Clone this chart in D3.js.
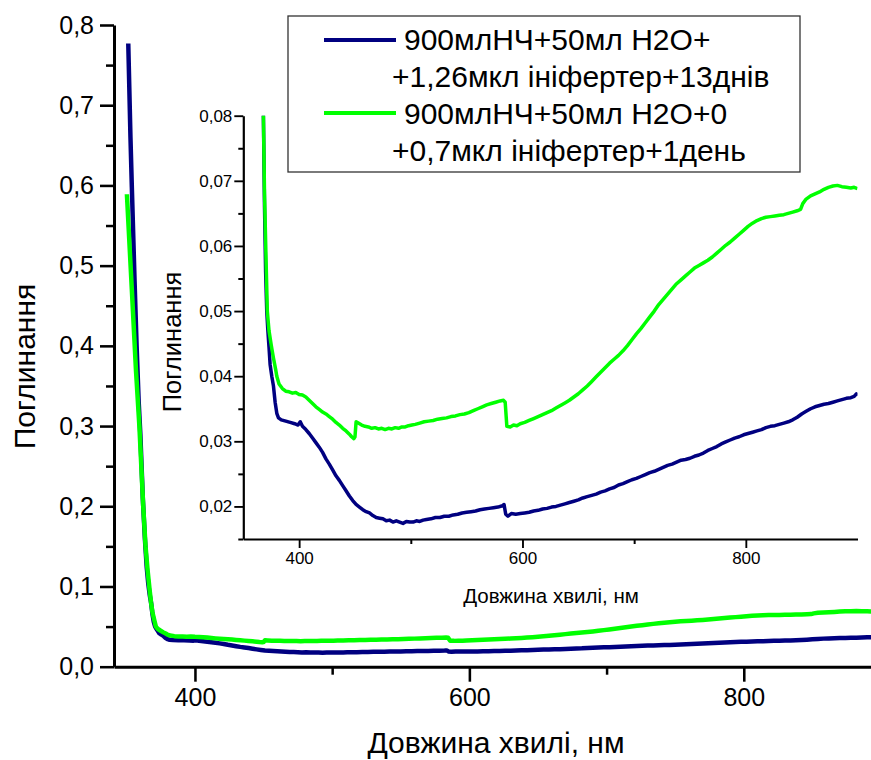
<!DOCTYPE html>
<html>
<head>
<meta charset="utf-8">
<script src="https://cdn.jsdelivr.net/npm/d3@7"></script>
<style>
  html, body { margin: 0; padding: 0; background: #fff; }
  svg { display: block; font-family: "Liberation Sans", Arial, sans-serif; }
</style>
</head>
<body>
<svg id="chart" width="871" height="760"></svg>
<script>
// ---------------- DATA ----------------
const seriesNames = [
  ["900млНЧ+50мл H2O+", "+1,26мкл ініфертер+13днів"],
  ["900млНЧ+50мл H2O+0", "+0,7мкл ініфертер+1день"]
];
const seriesColors = ["#000080", "#00ff00"];

// Wavelength (nm) and absorbance for series 1 (blue)
const blueWl = [351.4,353,354,356,357.5,359,360.2,362,363.5,364.8,366,367,368,369,370,371,372,373,374,375.5,377,378.5,380,381.5,
384,388,392,396,399,401,403,406,409,412,415,418,421,424,427,430,433,436,439,442,445,448,451,454,457,460,463,466,469,472,475,478,481,484,487,490,493,496,499,502,505,508,511,514,518,522,526,530,534,538,542,546,550,554,558,562,566,570,574,578,582,583.5,585,587,590,594,598,602,606,610,614,618,622,626,630,634,638,642,646,650,654,658,662,666,670,674,678,682,686,690,694,698,702,706,710,714,718,722,726,730,734,738,742,746,750,754,758,762,766,770,774,778,782,786,790,794,798,802,806,810,814,818,822,826,830,834,838,842,846,850,854,858,862,866,870,874,878,882,886,890,894,897,899,900];
const blueAbs = [0.777,0.66,0.598,0.48,0.399,0.33,0.29,0.21,0.16,0.125,0.103,0.09,0.08,0.066,0.056,0.05,0.047,0.0445,0.0418,0.0400,0.0385,0.0360,0.0343,0.0336,
0.0333,0.0331,0.0329,0.0327,0.0325,0.0330,0.0323,0.0318,0.0312,0.0305,0.0298,0.0291,0.0283,0.0273,0.0265,0.0256,0.0247,0.0240,0.0232,0.0224,0.0216,0.0209,0.0203,0.0199,0.0195,0.0192,0.0190,0.0186,0.0183,0.0182,0.0181,0.0178,0.0179,0.0176,0.0178,0.0176,0.0174,0.0177,0.0176,0.0176,0.0178,0.0177,0.0179,0.0180,0.0181,0.0183,0.0183,0.0185,0.0185,0.0187,0.0188,0.0190,0.0191,0.0192,0.0193,0.0195,0.0196,0.0197,0.0198,0.0199,0.0201,0.0203,0.0188,0.0185,0.0189,0.0188,0.0189,0.0190,0.0191,0.0193,0.0194,0.0196,0.0197,0.0199,0.0200,0.0202,0.0204,0.0206,0.0208,0.0210,0.0213,0.0215,0.0217,0.0219,0.0222,0.0224,0.0227,0.0229,0.0233,0.0235,0.0238,0.0241,0.0243,0.0246,0.0249,0.0252,0.0254,0.0257,0.0260,0.0263,0.0265,0.0268,0.0271,0.0272,0.0274,0.0277,0.0279,0.0282,0.0286,0.0289,0.0292,0.0296,0.0299,0.0302,0.0305,0.0307,0.0310,0.0312,0.0314,0.0316,0.0318,0.0321,0.0323,0.0324,0.0326,0.0328,0.0330,0.0333,0.0337,0.0342,0.0346,0.0350,0.0353,0.0355,0.0357,0.0358,0.0360,0.0362,0.0364,0.0366,0.0367,0.0369,0.0373,0.0370];

// Wavelength (nm) and absorbance for series 2 (green)
const greenWl = [350.4,354,357,359.5,362.3,364,365.5,367,368,369,370.5,371.5,373,375,377,379,380,382,385,388,391,394,397,400,403,406,409,412,415,418,421,424,427,430,433,436,439,442,445,447,449,450,451,453,456,459,462,465,468,471,474,477,480,483,486,489,492,495,498,501,504,508,512,516,520,524,528,532,536,540,544,548,552,556,560,564,568,572,576,580,583,584.5,586,589,592,595,598,602,606,610,614,618,622,626,630,634,638,642,646,650,654,658,662,666,670,674,678,682,686,690,694,698,702,706,710,714,718,722,726,730,734,738,742,746,750,754,758,762,766,770,774,778,782,786,790,794,798,802,806,810,814,818,822,826,830,834,838,842,846,849,851,854,858,862,866,870,874,878,882,886,890,894,897,900];
const greenAbs = [0.589,0.47,0.37,0.30,0.2,0.15,0.12,0.095,0.08,0.068,0.057,0.05,0.047,0.0448,0.0428,0.041,0.040,0.0388,0.0381,0.0377,0.0376,0.0374,0.0375,0.0372,0.0371,0.0368,0.0363,0.0358,0.0353,0.0349,0.0345,0.0342,0.0338,0.0334,0.0329,0.0325,0.0320,0.0316,0.0311,0.0307,0.0304,0.0307,0.0330,0.0328,0.0325,0.0323,0.0322,0.0320,0.0321,0.0319,0.0320,0.0318,0.0320,0.0319,0.0321,0.0320,0.0322,0.0322,0.0324,0.0325,0.0326,0.0328,0.0330,0.0331,0.0332,0.0334,0.0335,0.0336,0.0338,0.0339,0.0341,0.0342,0.0344,0.0347,0.0350,0.0353,0.0356,0.0358,0.0360,0.0362,0.0363,0.0360,0.0323,0.0322,0.0325,0.0324,0.0327,0.0329,0.0332,0.0335,0.0338,0.0341,0.0344,0.0347,0.0351,0.0355,0.0359,0.0363,0.0368,0.0373,0.0379,0.0385,0.0392,0.0399,0.0406,0.0413,0.0420,0.0426,0.0432,0.0439,0.0447,0.0456,0.0465,0.0473,0.0482,0.0491,0.0500,0.0510,0.0518,0.0526,0.0534,0.0542,0.0548,0.0554,0.0560,0.0566,0.0570,0.0574,0.0578,0.0583,0.0589,0.0595,0.0601,0.0606,0.0612,0.0618,0.0624,0.0630,0.0635,0.0639,0.0642,0.0644,0.0645,0.0646,0.0647,0.0648,0.0650,0.0652,0.0654,0.0656,0.0665,0.0672,0.0677,0.0680,0.0683,0.0687,0.0690,0.0692,0.0693,0.0691,0.0690,0.0689,0.0690,0.0688];

// Tick values
const mainXTicks = [400, 600, 800];
const mainXMinor = [500, 700];
const mainYTicks = [0, 0.1, 0.2, 0.3, 0.4, 0.5, 0.6, 0.7, 0.8];
const mainYMinor = [0.05, 0.15, 0.25, 0.35, 0.45, 0.55, 0.65, 0.75];
const insetXTicks = [400, 600, 800];
const insetXMinor = [500, 700];
const insetYTicks = [0.02, 0.03, 0.04, 0.05, 0.06, 0.07, 0.08];
const insetYMinor = [0.015, 0.025, 0.035, 0.045, 0.055, 0.065, 0.075];

const xTitle = "Довжина хвилі, нм";
const yTitle = "Поглинання";

// ---------------- DRAW ----------------
const svg = d3.select("#chart");
const loc = d3.formatLocale({decimal: ",", thousands: " ", grouping: [3], currency: ["", ""]});
const f1 = loc.format(".1f"), f2 = loc.format(".2f");

const series = [
  blueWl.map((w, i) => ({x: w, y: blueAbs[i]})),
  greenWl.map((w, i) => ({x: w, y: greenAbs[i]}))
];

// Main scales
const mx = d3.scaleLinear().domain([341, 900]).range([114, 881]);
const my = d3.scaleLinear().domain([0, 0.8]).range([666.7, 25]);
// Inset scales
const ix = d3.scaleLinear().domain([350, 900]).range([243.3, 857.5]);
const iy = d3.scaleLinear().domain([0.015, 0.08]).range([539, 115.7]);

const defs = svg.append("defs");
defs.append("clipPath").attr("id", "clipMain").append("rect")
  .attr("x", mx(341)).attr("y", my(0.8)).attr("width", mx(900) - mx(341)).attr("height", my(0) - my(0.8));
defs.append("clipPath").attr("id", "clipInset").append("rect")
  .attr("x", ix(350)).attr("y", iy(0.08)).attr("width", ix(900) - ix(350)).attr("height", iy(0.015) - iy(0.08));

function styleAxis(g, sw, fs) {
  g.select(".domain").attr("stroke", "#000").attr("stroke-width", sw);
  g.selectAll(".tick line").attr("stroke", "#000").attr("stroke-width", sw * 0.85);
  g.selectAll(".tick text").attr("fill", "#000").style("font-size", fs + "px")
    .style("font-family", "'Liberation Sans', Arial, sans-serif");
}

// ---- main axes ----
const gmx = svg.append("g").attr("transform", `translate(0,${my(0)})`)
  .call(d3.axisBottom(mx).tickValues(mainXTicks).tickSize(15).tickSizeOuter(0).tickPadding(7).tickFormat(d3.format("d")));
styleAxis(gmx, 3, 25);
svg.append("g").attr("transform", `translate(0,${my(0)})`)
  .call(d3.axisBottom(mx).tickValues(mainXMinor).tickSize(8).tickFormat(""))
  .call(g => { g.select(".domain").remove(); g.selectAll("line").attr("stroke", "#000").attr("stroke-width", 2.5); });

const gmy = svg.append("g").attr("transform", `translate(${mx(341)},0)`)
  .call(d3.axisLeft(my).tickValues(mainYTicks).tickSize(14).tickSizeOuter(0).tickPadding(6).tickFormat(f1));
styleAxis(gmy, 3, 25);
svg.append("g").attr("transform", `translate(${mx(341)},0)`)
  .call(d3.axisLeft(my).tickValues(mainYMinor).tickSize(8).tickFormat(""))
  .call(g => { g.select(".domain").remove(); g.selectAll("line").attr("stroke", "#000").attr("stroke-width", 2.5); });

// main titles
svg.append("text").attr("x", 496).attr("y", 753).attr("text-anchor", "middle")
  .style("font-size", "30px").attr("fill", "#000").text(xTitle);
svg.append("text").attr("transform", "translate(35,366.5) rotate(-90)").attr("text-anchor", "middle")
  .style("font-size", "30px").attr("fill", "#000").text(yTitle);

// main curves
const mline = d3.line().x(d => mx(d.x)).y(d => my(d.y));
const gm = svg.append("g").attr("clip-path", "url(#clipMain)");
series.forEach((s, i) => {
  gm.append("path").datum(s).attr("d", mline).attr("fill", "none")
    .attr("stroke", seriesColors[i]).attr("stroke-width", 4.5).attr("stroke-linejoin", "round");
});

// ---- inset axes ----
const gix = svg.append("g").attr("transform", `translate(0,${iy(0.015)})`)
  .call(d3.axisBottom(ix).tickValues(insetXTicks).tickSize(9).tickSizeOuter(0).tickPadding(4).tickFormat(d3.format("d")));
styleAxis(gix, 2.2, 17);
svg.append("g").attr("transform", `translate(0,${iy(0.015)})`)
  .call(d3.axisBottom(ix).tickValues(insetXMinor).tickSize(5).tickFormat(""))
  .call(g => { g.select(".domain").remove(); g.selectAll("line").attr("stroke", "#000").attr("stroke-width", 2); });

const giy = svg.append("g").attr("transform", `translate(${ix(350)},0)`)
  .call(d3.axisLeft(iy).tickValues(insetYTicks).tickSize(9).tickSizeOuter(0).tickPadding(2).tickFormat(f2));
styleAxis(giy, 2.2, 17);
svg.append("g").attr("transform", `translate(${ix(350)},0)`)
  .call(d3.axisLeft(iy).tickValues(insetYMinor).tickSize(5).tickFormat(""))
  .call(g => { g.select(".domain").remove(); g.selectAll("line").attr("stroke", "#000").attr("stroke-width", 2); });

svg.append("text").attr("x", 551).attr("y", 603).attr("text-anchor", "middle")
  .style("font-size", "20.5px").attr("fill", "#000").text(xTitle);
svg.append("text").attr("transform", "translate(181,342) rotate(-90)").attr("text-anchor", "middle")
  .style("font-size", "25.5px").attr("fill", "#000").text(yTitle);

const iline = d3.line().x(d => ix(d.x)).y(d => iy(d.y));
const gi = svg.append("g").attr("clip-path", "url(#clipInset)");
series.forEach((s, i) => {
  gi.append("path").datum(s).attr("d", iline).attr("fill", "none")
    .attr("stroke", seriesColors[i]).attr("stroke-width", 3.5).attr("stroke-linejoin", "round");
});

// ---- legend ----
const lg = svg.append("g");
lg.append("rect").attr("x", 288).attr("y", 16).attr("width", 512).attr("height", 156)
  .attr("fill", "#fff").attr("stroke", "#333").attr("stroke-width", 1.3);
const legendLineY = [40, 113];
const legendBase = [[50, 87], [124, 161]];
series.forEach((s, i) => {
  lg.append("line").attr("x1", 324).attr("x2", 396).attr("y1", legendLineY[i]).attr("y2", legendLineY[i])
    .attr("stroke", seriesColors[i]).attr("stroke-width", 4);
  lg.append("text").attr("x", 404).attr("y", legendBase[i][0]).style("font-size", "30px").attr("fill", "#000").text(seriesNames[i][0]);
  lg.append("text").attr("x", 392).attr("y", legendBase[i][1]).style("font-size", "30px").attr("fill", "#000").text(seriesNames[i][1]);
});
</script>
</body>
</html>
